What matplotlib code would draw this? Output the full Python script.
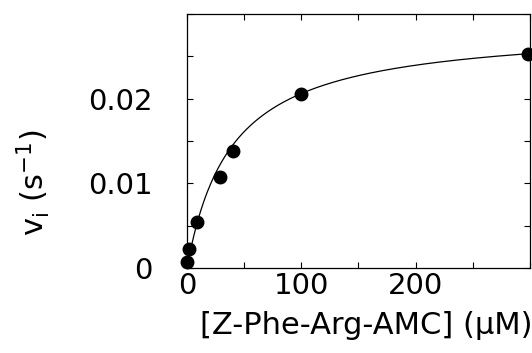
import numpy as np
import matplotlib
matplotlib.use('Agg')
import matplotlib.pyplot as plt
from matplotlib.ticker import MultipleLocator

# substrate concentration (uM) and initial rate (1/s)
conc = [0.3, 1.6, 9, 29, 40, 100, 298]
rate = [0.00067, 0.00225, 0.0054, 0.0107, 0.0138, 0.0206, 0.0253]

# Michaelis-Menten fit parameters
Km = 38.8
Vmax = 0.0286

plt.rcParams['font.family'] = 'DejaVu Sans'

fig = plt.figure(figsize=(5.32, 3.53), dpi=100)
ax = fig.add_axes([0.3515, 0.2408, 0.6447, 0.7195])

s = np.linspace(0, 300, 300)
ax.plot(s, Vmax * s / (Km + s), color='black', lw=0.9)
ax.plot(conc, rate, 'o', color='black', ms=9, clip_on=False, zorder=3)

ax.set_xlim(0, 300)
ax.set_ylim(0, 0.03)
ax.xaxis.set_minor_locator(MultipleLocator(50))
ax.yaxis.set_minor_locator(MultipleLocator(0.005))
ax.set_yticks([0, 0.01, 0.02])
ax.set_yticklabels(['0', '0.01', '0.02'])
ax.set_xticks([0, 100, 200])
ax.set_xticklabels(['0', '100', '200'])

ax.tick_params(which='both', direction='in', top=True, right=True,
               length=4, width=0.8, labelsize=21)
ax.tick_params(axis='y', pad=25)
ax.tick_params(axis='x', pad=3)
for sp in ax.spines.values():
    sp.set_linewidth(0.9)

# axis titles placed where they sit in the original figure
fig.text(366 / 532, 1 - 325 / 353, '[Z-Phe-Arg-AMC] (\u03bcM)', fontsize=22,
         ha='center', va='center')
fig.text(33 / 532, 1 - 183 / 353, r'v$_\mathregular{i}$ (s$^\mathregular{-1}$)',
         fontsize=22, rotation=90, ha='center', va='center')

fig.savefig('out.png', dpi=100)
